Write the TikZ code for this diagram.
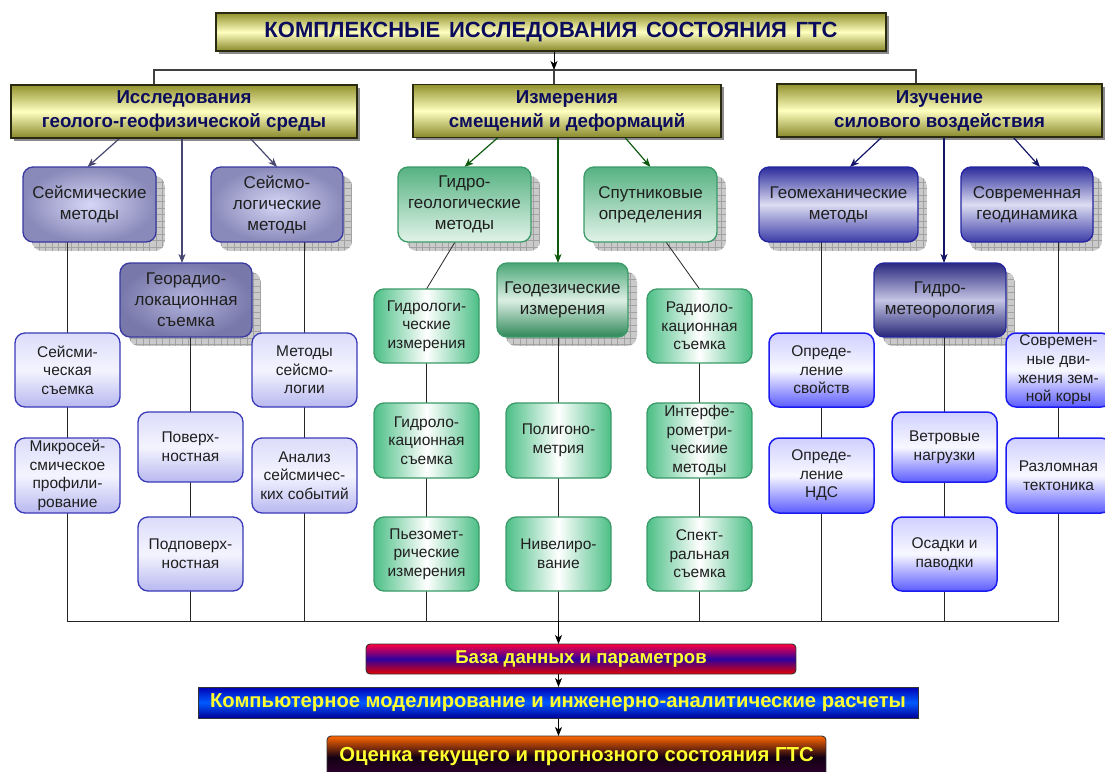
\documentclass[tikz,border=0pt]{standalone}
\usepackage{fontspec}
\setmainfont{Liberation Sans}
\usetikzlibrary{arrows.meta,calc}
\pgfdeclarelayer{shd}
\pgfdeclarelayer{lns}
\pgfsetlayers{shd,lns,main}

\definecolor{navy}{HTML}{0C0C5C}
\definecolor{olTop}{HTML}{92922E}
\definecolor{olMid}{HTML}{FFFFC0}
\definecolor{olBot}{HTML}{88882A}
\definecolor{olBorder}{HTML}{2A2A10}
\definecolor{shadowgray}{HTML}{CACACA}
\definecolor{gridgray}{HTML}{A2A2A2}
\definecolor{pBorder}{HTML}{3838A0}
\definecolor{pIn}{HTML}{D6D6F6}
\definecolor{pOut}{HTML}{8A8ABA}
\definecolor{pdIn}{HTML}{B4B4DE}
\definecolor{pdOut}{HTML}{7878AA}
\definecolor{lTop}{HTML}{DCDCFA}
\definecolor{lMid}{HTML}{F4F4FF}
\definecolor{lBot}{HTML}{B8B8F0}
\definecolor{lBorder}{HTML}{3A3AB8}
\definecolor{gBorder}{HTML}{3A9A68}
\definecolor{gTop}{HTML}{56B282}
\definecolor{gBot}{HTML}{E2F3E9}
\definecolor{gdTop}{HTML}{4AA676}
\definecolor{gdMid}{HTML}{DCEFE4}
\definecolor{gdBot}{HTML}{2E8858}
\definecolor{gsSide}{HTML}{4CBF86}
\definecolor{bTop}{HTML}{2C2C9C}
\definecolor{bMid}{HTML}{DCDCF2}
\definecolor{bBot}{HTML}{3C3CA8}
\definecolor{bBorder}{HTML}{2424A0}
\definecolor{bdTop}{HTML}{2A2A80}
\definecolor{bdMid}{HTML}{C4C4E4}
\definecolor{bdBot}{HTML}{262678}
\definecolor{bsTop}{HTML}{D0D0FF}
\definecolor{bsMid}{HTML}{F8F8FF}
\definecolor{bsBot}{HTML}{5C5CFF}
\definecolor{bsBorder}{HTML}{1C1CF0}
\definecolor{arrA}{HTML}{484870}
\definecolor{arrB}{HTML}{105A10}
\definecolor{arrC}{HTML}{141468}
\definecolor{yel}{HTML}{FFFF30}

\newcommand\gridshadow[1]{%
  \begin{scope}
    \clip[rounded corners=10pt] ([shift={(9pt,-9pt)}]#1.south west) rectangle ([shift={(9pt,-9pt)}]#1.north east);
    \fill[shadowgray] ([shift={(9pt,-9pt)}]#1.south west) rectangle ([shift={(9pt,-9pt)}]#1.north east);
    \draw[gridgray, line width=0.5pt, step=6.5pt] ([shift={(9pt,-9pt)}]#1.south west) grid ([shift={(9pt,-9pt)}]#1.north east);
  \end{scope}}

\begin{document}
\begin{tikzpicture}[x=1pt,y=-1pt,
  every node/.style={inner sep=0pt, outer sep=0pt, align=center},
  sz/.style 2 args={minimum width=#1pt, minimum height=#2pt},
  titlebox/.style={draw=olBorder, line width=1.2pt, top color=olTop, bottom color=olBot, middle color=olMid, text=navy, font=\bfseries\fontsize{22}{26}\selectfont},
  olivebox/.style={draw=olBorder, line width=1.2pt, top color=olTop, bottom color=olBot, middle color=olMid, text=navy, font=\bfseries\fontsize{18.7}{24}\selectfont},
  lvtwo/.style={rounded corners=10pt, line width=1.3pt, font=\fontsize{17}{21}\selectfont, text=black!88},
  lvthree/.style={rounded corners=10pt, line width=1.3pt, font=\fontsize{15.5}{18.6}\selectfont, text=black!88},
  pbox/.style={lvtwo, draw=pBorder, shading=radial, inner color=pIn, outer color=pOut},
  pdbox/.style={lvtwo, draw=pBorder, shading=radial, inner color=pdIn, outer color=pdOut},
  lbox/.style={lvthree, draw=lBorder, top color=lTop, bottom color=lBot, middle color=lMid},
  gbox/.style={lvtwo, draw=gBorder, top color=gTop, bottom color=gBot},
  gdbox/.style={lvtwo, draw=gBorder, top color=gdTop, bottom color=gdBot, middle color=gdMid},
  gsbox/.style={lvthree, draw=gBorder, left color=gsSide, right color=gsSide, middle color=white},
  bbox/.style={lvtwo, draw=bBorder, top color=bTop, bottom color=bBot, middle color=bMid},
  bdbox/.style={lvtwo, draw=bBorder, top color=bdTop, bottom color=bdBot, middle color=bdMid},
  bsbox/.style={lvthree, draw=bsBorder, line width=1.5pt, top color=bsTop, bottom color=bsBot, middle color=bsMid},
  resbox/.style={draw=black!80, line width=0.9pt, text=yel},
  ln/.style={draw=black!85, line width=0.8pt},
  bus/.style={draw=black!75, line width=1.6pt},
  tip/.style={-{Stealth[length=9pt,width=7pt,inset=2.5pt]}},
  arrK/.style={ln, tip, draw=black},
  arrGA/.style={tip, line width=1.2pt, draw=arrA, arrA},
  arrGB/.style={tip, line width=1.2pt, draw=arrB, arrB},
  arrGC/.style={tip, line width=1.2pt, draw=arrC, arrC}
]
\useasboundingbox (0,0) rectangle (1105,771);

% ---- top levels
\node[titlebox, sz={670}{38}] (t) at (551,32) {КОМПЛЕКСНЫЕ\hspace{0.4em}ИССЛЕДОВАНИЯ\hspace{0.4em}СОСТОЯНИЯ\hspace{0.4em}ГТС};
\node[olivebox, sz={346}{53}] (g1) at (184,111.5) {Исследования\\геолого-геофизической среды};
\node[olivebox, sz={308}{53}] (g2) at (567,111) {Измерения\\смещений и деформаций};
\node[olivebox, sz={325}{53}] (g3) at (939.5,110.5) {Изучение\\силового воздействия};

% ---- level 2
\node[pbox, sz={133}{75}] (a1) at (89.5,204.5) {Сейсмические\\методы};
\node[pbox, sz={132}{75}] (a2) at (277,204.5) {Сейсмо-\\логические\\методы};
\node[gbox, sz={133}{75}] (b1) at (464.5,204.5) {Гидро-\\геологические\\методы};
\node[gbox, sz={133}{75}] (b2) at (650.5,204.5) {Спутниковые\\определения};
\node[bbox, sz={159}{75}] (c1) at (838.5,204.5) {Геомеханические\\методы};
\node[bbox, sz={132}{75}] (c2) at (1027,204.5) {Современная\\геодинамика};

% ---- mid boxes
\node[pdbox, sz={132}{74}] (a3) at (186,300) {Георадио-\\локационная\\съемка};
\node[gdbox, sz={131}{74}] (b3) at (562.5,300) {Геодезические\\измерения};
\node[bdbox, sz={132}{74}] (c3) at (940,300) {Гидро-\\метеорология};

% ---- left group leaves
\node[lbox, sz={105}{74}] (s1) at (67.5,370) {Сейсми-\\ческая\\съемка};
\node[lbox, sz={105}{75}] (s2) at (67.5,475.5) {Микросей-\\смическое\\профили-\\рование};
\node[lbox, sz={105}{74}] (s3) at (304.5,370) {Методы\\сейсмо-\\логии};
\node[lbox, sz={105}{75}] (s4) at (304.5,475.5) {Анализ\\сейсмичес-\\ких событий};
\node[lbox, sz={105}{70}] (s5) at (190.5,447) {Поверх-\\ностная};
\node[lbox, sz={105}{74}] (s6) at (190.5,554) {Подповерх-\\ностная};

% ---- middle group leaves
\node[gsbox, sz={105}{74}] (m1) at (426.5,326) {Гидрологи-\\ческие\\измерения};
\node[gsbox, sz={105}{75}] (m2) at (426.5,440.5) {Гидроло-\\кационная\\съемка};
\node[gsbox, sz={105}{74}] (m3) at (426.5,554) {Пьезомет-\\рические\\измерения};
\node[gsbox, sz={105}{75}] (m4) at (558.5,440.5) {Полигоно-\\метрия};
\node[gsbox, sz={105}{74}] (m5) at (558.5,554) {Нивелиро-\\вание};
\node[gsbox, sz={105}{74}] (m6) at (699.5,326) {Радиоло-\\кационная\\съемка};
\node[gsbox, sz={105}{75}] (m7) at (699.5,440.5) {Интерфе-\\рометри-\\ческиие\\методы};
\node[gsbox, sz={105}{74}] (m8) at (699.5,554) {Спект-\\ральная\\съемка};

% ---- right group leaves
\node[bsbox, sz={105}{74}] (r1) at (821.5,370) {Опреде-\\ление\\свойств};
\node[bsbox, sz={105}{75}] (r2) at (821.5,475.5) {Опреде-\\ление\\НДС};
\node[bsbox, sz={105}{70}] (r3) at (944.5,447) {Ветровые\\нагрузки};
\node[bsbox, sz={105}{74}] (r4) at (944.5,554) {Осадки и\\паводки};
\node[bsbox, sz={105}{74}] (r5) at (1058.5,370) {Современ-\\ные дви-\\жения зем-\\ной коры};
\node[bsbox, sz={105}{75}] (r6) at (1058.5,475.5) {Разломная\\тектоника};

% ---- results
\node[resbox, font=\bfseries\fontsize{18.6}{22}\selectfont, rounded corners=4pt, sz={430}{30}, top color=red!75!magenta, bottom color=red!90!black, middle color=blue!55!violet!80!black] (db) at (581,659) {База данных и параметров};
\node[resbox, font=\bfseries\fontsize{20.2}{22}\selectfont, sz={720}{31}, top color=blue!70!black, bottom color=blue!60!black, middle color={rgb,255:red,0;green,90;blue,255}] (cm) at (558,702.5) {Компьютерное моделирование и инженерно-аналитические расчеты};
\node[resbox, font=\bfseries\fontsize{20.3}{22}\selectfont, rounded corners=4pt, sz={499}{42}, top color=orange!80!red, bottom color=violet!40!black, middle color=black!85!violet] (oc) at (576.5,757) {Оценка текущего и прогнозного состояния ГТС};

% ---- shadows
\begin{pgfonlayer}{shd}
  \foreach \n in {t,g1,g2,g3}
    \fill[black!45] ([shift={(2.5pt,-2.5pt)}]\n.south west) rectangle ([shift={(2.5pt,-2.5pt)}]\n.north east);
  \foreach \n in {a1,a2,b1,b2,c1,c2,a3,b3,c3} {\gridshadow{\n}}
\end{pgfonlayer}

% ---- connectors
\begin{pgfonlayer}{lns}
  \coordinate (busL) at (154,70);
  \coordinate (busM) at (554,70);
  \coordinate (busR) at (916,70);
  \coordinate (bb) at (0,621);
  \draw[bus] (g1.north -| busL) -- (busL) -- (busR) -- (g3.north -| busR);
  \draw[bus] (busM) -- (g2.north -| busM);
  \draw[arrK] (t.south -| busM) -- (busM);

  \coordinate (ax) at ([xshift=-4pt]a3.north);
  \coordinate (bx) at ([xshift=-4.5pt]b3.north);
  \coordinate (cx) at ([xshift=4pt]c3.north);
  \draw[arrGA] ([xshift=-64pt]g1.south) -- ([xshift=-2pt]a1.north);
  \draw[arrGA] (g1.south -| ax) -- (ax);
  \draw[arrGA] ([xshift=66pt]g1.south) -- (a2.north);
  \draw[arrGB] ([xshift=-69pt]g2.south) -- (b1.north);
  \draw[arrGB] (g2.south -| bx) -- (bx);
  \draw[arrGB] ([xshift=58pt]g2.south) -- (b2.north);
  \draw[arrGC] ([xshift=-57.5pt]g3.south) -- ([xshift=11.5pt]c1.north);
  \draw[arrGC] (g3.south -| cx) -- (cx);
  \draw[arrGC] ([xshift=73.5pt]g3.south) -- ([xshift=13pt]c2.north);

  \draw[ln] (a1.south -| s1) -- (s1 |- bb) -- (r5 |- bb) -- (c2.south -| r5);
  \draw[ln] (a3.south -| s5) -- (s5 |- bb);
  \draw[ln] (a2.south -| s3) -- (s3 |- bb);
  \draw[ln] ([xshift=-9.5pt]b1.south) -- (m1.north);
  \draw[ln] (m1.south) -- (m1 |- bb);
  \draw[ln] (b3.south -| m4) -- (m4 |- bb);
  \draw[ln] ([xshift=15.5pt]b2.south) -- (m6.north);
  \draw[ln] (m6.south) -- (m6 |- bb);
  \draw[ln] (c1.south -| r1) -- (r1 |- bb);
  \draw[ln] (c3.south -| r3) -- (r3 |- bb);
  \draw[arrK] (m4 |- bb) -- (db.north -| m4);
  \draw[arrK] (db.south -| m4) -- (cm.north -| m4);
  \draw[arrK] (cm.south -| m4) -- (oc.north -| m4);
\end{pgfonlayer}
\end{tikzpicture}
\end{document}
